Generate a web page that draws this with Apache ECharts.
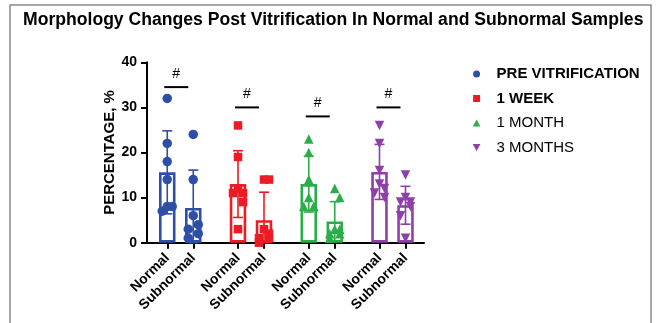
<!DOCTYPE html>
<html>
<head>
<meta charset="utf-8">
<script src="https://cdn.jsdelivr.net/npm/echarts@6/dist/echarts.min.js"></script>
<style>
html,body{margin:0;padding:0;background:#fff;}
#c{width:657px;height:323px;}
</style>
</head>
<body>
<div id="c"></div>
<script>
// ---------- data ----------
const titleText = 'Morphology Changes Post Vitrification In Normal and Subnormal Samples';
const groups = ['PRE VITRIFICATION', '1 WEEK', '1 MONTH', '3 MONTHS'];
const subCats = ['Normal', 'Subnormal'];
const normalPts = [
  [32, 22, 18, 14, 8, 8, 7],
  [26, 19, 12, 11, 11, 9, 3],
  [23, 20, 14, 10, 8, 8, 8],
  [26, 22, 16, 13, 12, 11, 10]
];
const subnormalPts = [
  [24, 14, 6, 4, 3, 2, 1],
  [14, 14, 3, 2, 1, 1, 0],
  [12, 10, 3, 3, 2, 2, 1],
  [15, 10, 9, 9, 8, 6, 1]
];
const normalMean = [15.6, 13.0, 13.0, 15.7];
const normalSD = [9.2, 7.4, 6.2, 6.1];
const subnormalMean = [7.7, 5.0, 4.7, 8.3];
const subnormalSD = [8.4, 6.2, 4.4, 4.2];
const sigLevel = [34.5, 30, 28, 30];
const sigLabel = ['#', '#', '#', '#'];
const yMin = 0, yMax = 40, yStep = 10;
const yName = 'PERCENTAGE, %';

// ---------- styles ----------
const colors = ['#2E4FA8', '#EC1C24', '#2BAE4A', '#8E3FA8'];
const symbols = ['circle', 'rect', 'triangle', 'path://M0,0L10,0L5,9Z'];
const legendIcons = ['circle', 'path://M0,0H10V10H0Z', 'path://M5,0L10,9H0Z', 'path://M0,0H10L5,9Z'];
const legendBold = [true, true, false, false];
const FONT = 'Liberation Sans, Arial, Helvetica, sans-serif';

const PLOT_TOP = 62.3, PLOT_H = 180.4, PLOT_LEFT = 147, PLOT_W = 277;
const G0 = 180.25, GSTEP = 70.75, BAND = 26, SIG_SHIFT = 9;

function jitter(vals, step) {
  const idx = vals.map((v, i) => i).sort((a, b) => vals[b] - vals[a]);
  const off = new Array(vals.length).fill(0);
  let k = 0, prev = null;
  idx.forEach(i => {
    if (prev !== null && vals[prev] - vals[i] < 2.5) { k++; } else { k = 0; }
    off[i] = k === 0 ? 0 : (k % 2 ? step : -step);
    prev = i;
  });
  return off;
}

const grid = [{ left: PLOT_LEFT, top: PLOT_TOP, width: PLOT_W, height: PLOT_H }];
const xAxis = [{
  type: 'value', gridIndex: 0, min: 0, max: 1,
  axisLine: { show: true, onZero: false, lineStyle: { color: '#000', width: 2 } },
  axisTick: { show: false }, axisLabel: { show: false }, splitLine: { show: false }
}];
const yAxis = [{
  type: 'value', gridIndex: 0, min: yMin, max: yMax, interval: yStep,
  name: yName, nameLocation: 'middle', nameGap: 29,
  nameTextStyle: { fontSize: 15, fontWeight: 'bold', color: '#000', fontFamily: FONT },
  axisLine: { show: true, lineStyle: { color: '#000', width: 2 } },
  axisTick: { show: true, length: 6, lineStyle: { color: '#000', width: 2 } },
  axisLabel: { fontSize: 14, fontWeight: 'bold', color: '#000', margin: 10, fontFamily: FONT },
  splitLine: { show: false }
}];
const series = [];

groups.forEach((g, i) => {
  const gi = i + 1;
  const c = G0 + i * GSTEP;
  grid.push({ left: c - BAND, top: PLOT_TOP, width: BAND * 2, height: PLOT_H });
  xAxis.push({
    type: 'category', gridIndex: gi, data: subCats,
    axisLine: { show: false },
    axisTick: { show: true, alignWithLabel: true, length: 6, lineStyle: { color: '#000', width: 2 } },
    axisLabel: { rotate: 45, interval: 0, fontSize: 14, fontWeight: 'bold', color: '#000', margin: 13, fontFamily: FONT },
    splitLine: { show: false }
  });
  yAxis.push({ type: 'value', gridIndex: gi, min: yMin, max: yMax, show: false });

  series.push({
    type: 'bar', name: g + ' mean', xAxisIndex: gi, yAxisIndex: gi,
    data: [normalMean[i], subnormalMean[i]], barWidth: 16.5, silent: true, z: 2,
    itemStyle: { color: 'rgba(255,255,255,0)', borderColor: colors[i], borderWidth: 2.6 }
  });
  series.push({
    type: 'custom', name: g + ' sd', xAxisIndex: gi, yAxisIndex: gi, z: 3, silent: true,
    data: [[0, normalMean[i], normalSD[i]], [1, subnormalMean[i], subnormalSD[i]]],
    encode: { x: 0, y: 1 },
    renderItem: function (params, api) {
      const x = api.value(0), m = api.value(1), s = api.value(2);
      const t = api.coord([x, m + s]);
      const b = api.coord([x, Math.max(0, m - s)]);
      const cap = 5;
      const st = { stroke: colors[i], lineWidth: 1.6 };
      return {
        type: 'group', children: [
          { type: 'line', shape: { x1: t[0], y1: t[1], x2: b[0], y2: b[1] }, style: st },
          { type: 'line', shape: { x1: t[0] - cap, y1: t[1], x2: t[0] + cap, y2: t[1] }, style: st },
          { type: 'line', shape: { x1: b[0] - cap, y1: b[1], x2: b[0] + cap, y2: b[1] }, style: st }
        ]
      };
    }
  });
  const jn = jitter(normalPts[i], 5), js = jitter(subnormalPts[i], 5);
  const pts = normalPts[i].map((v, k) => ({ value: [0, v], symbolOffset: [jn[k], 0] }))
    .concat(subnormalPts[i].map((v, k) => ({ value: [1, v], symbolOffset: [js[k], 0] })));
  series.push({
    type: 'scatter', name: g, xAxisIndex: gi, yAxisIndex: gi, z: 4,
    symbol: symbols[i], symbolSize: i === 1 ? 8.5 : 9.5,
    itemStyle: { color: colors[i], opacity: 1 },
    data: pts
  });
  series.push({
    type: 'custom', name: g + ' sig', xAxisIndex: gi, yAxisIndex: gi, z: 5, silent: true,
    data: [[0, sigLevel[i]]],
    encode: { x: 0, y: 1 },
    renderItem: function (params, api) {
      const p = api.coord([api.value(0), api.value(1)]);
      const cx = p[0] + SIG_SHIFT;
      return {
        type: 'group', children: [
          { type: 'line', shape: { x1: cx - 12, y1: p[1], x2: cx + 12, y2: p[1] }, style: { stroke: '#000', lineWidth: 2 } },
          { type: 'text', x: cx, y: p[1] - 6, style: { text: sigLabel[i], fill: '#000', font: '14px ' + FONT, align: 'center', verticalAlign: 'bottom' } }
        ]
      };
    }
  });
});

const chart = echarts.init(document.getElementById('c'));
chart.setOption({
  animation: false,
  backgroundColor: '#fff',
  textStyle: { fontFamily: FONT },
  title: {
    text: titleText, left: 18, top: 6,
    textStyle: { fontSize: 17.6, fontWeight: 'bold', color: '#000', fontFamily: FONT }
  },
  legend: {
    orient: 'vertical', left: 472.7, top: 66.5, padding: 0,
    itemWidth: 30, itemHeight: 7, itemGap: 9.5, symbolKeepAspect: true,
    textStyle: { fontSize: 15, color: '#000', lineHeight: 15, fontFamily: FONT },
    data: groups.map((g, i) => ({ name: g, icon: legendIcons[i], textStyle: { fontWeight: legendBold[i] ? 'bold' : 'normal' } })),
    selectedMode: false
  },
  graphic: [{
    type: 'rect', silent: true, z: -1,
    shape: { x: 10, y: 5, width: 641, height: 340 },
    style: { fill: 'none', stroke: '#8a8a8a', lineWidth: 1.5 }
  }],
  grid: grid, xAxis: xAxis, yAxis: yAxis, series: series
});
</script>
</body>
</html>
